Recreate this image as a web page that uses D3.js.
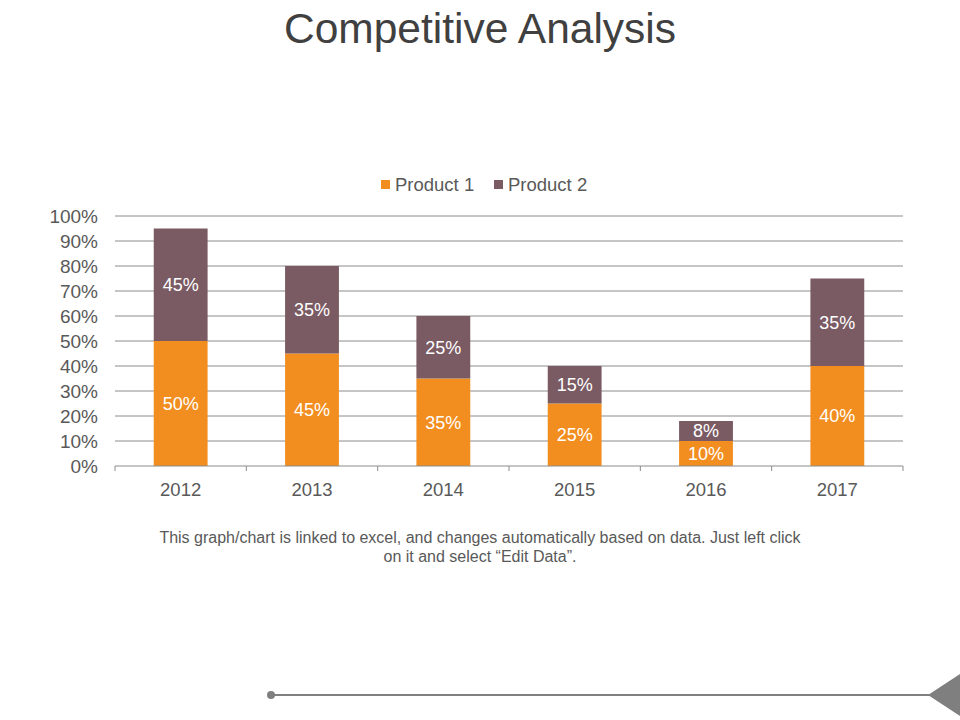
<!DOCTYPE html>
<html>
<head>
<meta charset="utf-8">
<script src="https://cdn.jsdelivr.net/npm/d3@7"></script>
<style>
  body { margin: 0; background: #fff; }
  svg text { font-family: 'Liberation Sans', Arial, sans-serif; }
</style>
</head>
<body>
<script>
const years = ['2012', '2013', '2014', '2015', '2016', '2017'];
const product1 = [50, 45, 35, 25, 10, 40];
const product2 = [45, 35, 25, 15, 8, 35];
const seriesNames = ['Product 1', 'Product 2'];
const yTicks = [0, 10, 20, 30, 40, 50, 60, 70, 80, 90, 100];
const footnote = ['This graph/chart is linked to excel, and changes automatically based on data. Just left click',
  'on it and select \u201cEdit Data\u201d.'];

const W = 960, H = 720;
const margin = { top: 216, right: 57, bottom: 254, left: 115 };
const width = W - margin.left - margin.right;
const height = H - margin.top - margin.bottom;
const colors = ['#F28E1F', '#7A5A63'];
const textGray = '#595959';

const svg = d3.select('body').append('svg')
  .attr('width', W)
  .attr('height', H);

// title
svg.append('text')
  .attr('x', 480)
  .attr('y', 43)
  .attr('text-anchor', 'middle')
  .attr('font-size', 42.5)
  .attr('fill', '#404040')
  .text('Competitive Analysis');

const g = svg.append('g').attr('transform', `translate(${margin.left},${margin.top})`);

const x = d3.scaleBand().domain(years).range([0, width]).paddingInner(0.59).paddingOuter(0.295);
const y = d3.scaleLinear().domain([0, 100]).range([height, 0]);

// gridlines
g.append('g')
  .selectAll('line')
  .data(yTicks.slice(1))
  .join('line')
  .attr('x1', 0)
  .attr('x2', width)
  .attr('y1', d => y(d))
  .attr('y2', d => y(d))
  .attr('stroke', '#8c8c8c')
  .attr('stroke-width', 1);

// y axis labels
const yAxis = d3.axisLeft(y)
  .tickValues(yTicks)
  .tickFormat(d => d + '%')
  .tickSize(0)
  .tickPadding(17);
g.append('g').call(yAxis)
  .call(a => a.select('.domain').remove())
  .call(a => a.selectAll('text').attr('font-size', 19).attr('fill', textGray).attr('font-family', 'Liberation Sans, Arial, sans-serif'));

// stacked data
const rows = years.map((yr, i) => ({ year: yr, p1: product1[i], p2: product2[i] }));
const stack = d3.stack().keys(['p1', 'p2'])(rows);

const layers = g.selectAll('.layer')
  .data(stack)
  .join('g')
  .attr('class', 'layer')
  .attr('fill', (d, i) => colors[i]);

layers.selectAll('rect')
  .data(d => d)
  .join('rect')
  .attr('x', d => x(d.data.year))
  .attr('width', x.bandwidth())
  .attr('y', d => y(d[1]))
  .attr('height', d => y(d[0]) - y(d[1]));

layers.selectAll('text')
  .data(d => d.map(v => ({ v, key: d.key })))
  .join('text')
  .attr('x', d => x(d.v.data.year) + x.bandwidth() / 2)
  .attr('y', d => y((d.v[0] + d.v[1]) / 2))
  .attr('dy', '0.36em')
  .attr('text-anchor', 'middle')
  .attr('font-size', 18)
  .attr('fill', '#fff')
  .text(d => d.v.data[d.key] + '%');

// x axis baseline + boundary ticks
const xAxisG = g.append('g').attr('transform', `translate(0,${height})`);
xAxisG.append('line')
  .attr('x1', 0).attr('x2', width)
  .attr('stroke', '#8c8c8c');
const step = x.step();
xAxisG.selectAll('.tick-mark')
  .data(d3.range(years.length + 1))
  .join('line')
  .attr('class', 'tick-mark')
  .attr('x1', i => i * step).attr('x2', i => i * step)
  .attr('y1', 0).attr('y2', 5)
  .attr('stroke', '#8c8c8c');
xAxisG.selectAll('.xlabel')
  .data(years)
  .join('text')
  .attr('class', 'xlabel')
  .attr('x', d => x(d) + x.bandwidth() / 2)
  .attr('y', 23)
  .attr('dy', '0.36em')
  .attr('text-anchor', 'middle')
  .attr('font-size', 18.5)
  .attr('fill', textGray)
  .text(d => d);

// legend
const legend = svg.append('g').attr('transform', 'translate(381,184)');
const legendX = [0, 113];
seriesNames.forEach((name, i) => {
  const lg = legend.append('g').attr('transform', `translate(${legendX[i]},0)`);
  lg.append('rect')
    .attr('x', 0).attr('y', -4)
    .attr('width', 9).attr('height', 9)
    .attr('fill', colors[i]);
  lg.append('text')
    .attr('x', 14)
    .attr('y', 0)
    .attr('dy', '0.36em')
    .attr('font-size', 18.5)
    .attr('fill', textGray)
    .text(name);
});

// footnote
svg.append('g').selectAll('text')
  .data(footnote)
  .join('text')
  .attr('x', 480)
  .attr('y', (d, i) => 543 + i * 19)
  .attr('text-anchor', 'middle')
  .attr('font-size', 16)
  .attr('fill', textGray)
  .text(d => d);

// bottom decoration
svg.append('line')
  .attr('x1', 271).attr('x2', 930)
  .attr('y1', 695).attr('y2', 695)
  .attr('stroke', '#7f7f7f')
  .attr('stroke-width', 2);
svg.append('circle')
  .attr('cx', 271).attr('cy', 695).attr('r', 4)
  .attr('fill', '#7f7f7f');
svg.append('path')
  .attr('d', 'M928,695L960,674L960,716Z')
  .attr('fill', '#7f7f7f');
</script>
</body>
</html>
